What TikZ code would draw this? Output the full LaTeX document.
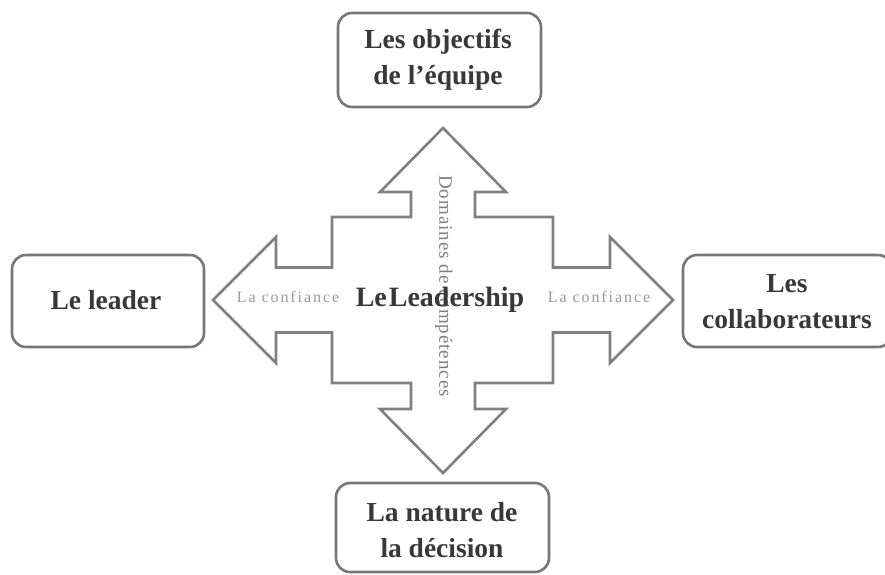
\documentclass[tikz,border=0pt]{standalone}
\usepackage{fontspec}
\setmainfont{Liberation Serif}
\definecolor{boxline}{HTML}{777777}
\definecolor{boxtext}{HTML}{383838}
\definecolor{lighttext}{HTML}{9A9A9A}
\definecolor{crossline}{HTML}{808080}
\begin{document}
\begin{tikzpicture}[x=1pt,y=-1pt,
  rbox/.style={draw=boxline,line width=2.6pt,rounded corners=14pt,fill=white},
  btext/.style={text=boxtext,font=\fontsize{27.5}{36}\selectfont\bfseries,align=center},
  conf/.style={text=lighttext,font=\fontsize{16}{18}\selectfont\addfontfeatures{LetterSpace=12}},
]
\useasboundingbox (0,0) rectangle (885,574);
% boxes
\draw[rbox] (338,13) rectangle (541,107);
\draw[rbox] (12,255) rectangle (204,347);
\draw[rbox] (683,255) rectangle (892,347);
\draw[rbox] (336,483) rectangle (549,572);
\node[btext] (top) at (438,60) {Les objectifs\\de l’équipe};
\node[btext] (left) at (106,300) {Le leader};
\node[btext] (right) at (787,302) {Les\\collaborateurs};
\node[btext] (bottom) at (442,530) {La nature de\\la décision};
% cross arrow
\begin{scope}[shift={(443,300)}]
\draw[crossline,line width=2.6pt,fill=white,line join=miter]
  (0,-172) -- (63,-108) -- (32,-108) -- (32,-83) -- (110,-83) -- (110,-32.5)
  -- (167,-32.5) -- (167,-63) -- (230,0) -- (167,63) -- (167,32.5) -- (110,32.5)
  -- (110,83) -- (32,83) -- (32,109) -- (63,109) -- (0,173) -- (-63,109) -- (-32,109)
  -- (-32,83) -- (-111,83) -- (-111,32.5) -- (-167,32.5) -- (-167,63) -- (-230,0)
  -- (-167,-63) -- (-167,-32.5) -- (-111,-32.5) -- (-111,-83) -- (-32,-83)
  -- (-32,-108) -- (-63,-108) -- cycle;
\end{scope}
\node[conf] (c1) at (288,297) {La confiance};
\node[conf] (c2) at (599,297) {La confiance};
\node[text=crossline,font=\fontsize{19}{21}\selectfont\addfontfeatures{LetterSpace=5},rotate=-90] (dom) at (444,286) {Domaines de compétences};
\node[text=boxtext,font=\fontsize{28}{32}\selectfont\bfseries] (lead) at (440,300) {Le\hspace{2pt}Leadership};
\end{tikzpicture}
\end{document}
